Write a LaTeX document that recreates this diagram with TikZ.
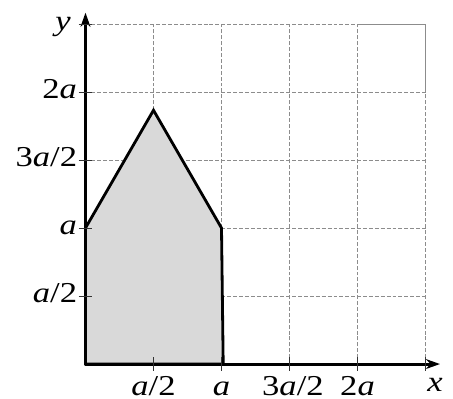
\documentclass[tikz,border=0pt]{standalone}
\usepackage{graphicx}
\usepackage{fontspec}
\setmainfont{Liberation Serif}
\usetikzlibrary{arrows.meta}
\definecolor{gridgray}{RGB}{140,140,140}
\definecolor{fillgray}{RGB}{217,217,217}
\newcommand{\wlbl}[1]{\scalebox{1.2}[1]{#1}}
\begin{document}
\begin{tikzpicture}[x=1.7cm,y=1.7cm,
  gridline/.style={gridgray,line width=0.6pt,dash pattern=on 2.8pt off 1.4pt},
  gridsolid/.style={gridgray,line width=0.6pt},
  axisline/.style={line width=2.1pt,-{Stealth[length=10pt,width=7pt]}},
  region/.style={fill=fillgray,draw=black,line width=2pt,line join=miter},
  tickmark/.style={black!80,line width=0.7pt},
  lbl/.style={inner sep=0pt,font=\rmfamily\fontsize{20.5}{24}\selectfont}]
\useasboundingbox (-1.257,-0.5) rectangle (5.404,5.353);
% grid
\foreach \k in {1,...,4} {
  \draw[gridline] (\k,0) -- (\k,5);
  \draw[gridline] (0,\k) -- (5,\k);
}
\draw[gridline] (0,5) -- (4,5);
\draw[gridline] (5,0) -- (5,4);
\draw[gridsolid] (4,5) -- (5,5) -- (5,4);
% region
\draw[region] (0,0) -- (0,2) -- (1,3.732) -- (2,2) -- (2.025,0) -- cycle;
% axes
\coordinate (O) at (0,0);
\coordinate (xend) at (5.213,0);
\coordinate (yend) at (0,5.166);
\draw[axisline] (O) -- (xend);
\draw[axisline] (O) -- (yend);
% ticks
\foreach \k in {1,...,5} {
  \draw[tickmark] (-0.1,\k) -- (0.1,\k);
  \draw[tickmark] (\k,-0.1) -- (\k,0.1);
}
% labels
\node[lbl,anchor=base east] (ly1) at (-0.12,0.91) {\wlbl{\textit{a}/2}};
\node[lbl,anchor=base east] (ly2) at (-0.12,1.91) {\wlbl{\textit{a}}};
\node[lbl,anchor=base east] (ly3) at (-0.12,2.91) {\wlbl{3\textit{a}/2}};
\node[lbl,anchor=base east] (ly4) at (-0.12,3.91) {\wlbl{2\textit{a}}};
\node[lbl,anchor=base] (lx1) at (1,-0.46) {\wlbl{\textit{a}/2}};
\node[lbl,anchor=base] (lx2) at (2,-0.46) {\wlbl{\textit{a}}};
\node[lbl,anchor=base] (lx3) at (3.05,-0.46) {\wlbl{3\textit{a}/2}};
\node[lbl,anchor=base] (lx4) at (4,-0.46) {\wlbl{2\textit{a}}};
\node[lbl,anchor=base] (lx) at (5.14,-0.41) {\wlbl{\textit{x}}};
\node[lbl,anchor=base] (ly) at (-0.33,4.9) {\wlbl{\textit{y}}};
\end{tikzpicture}
\end{document}
